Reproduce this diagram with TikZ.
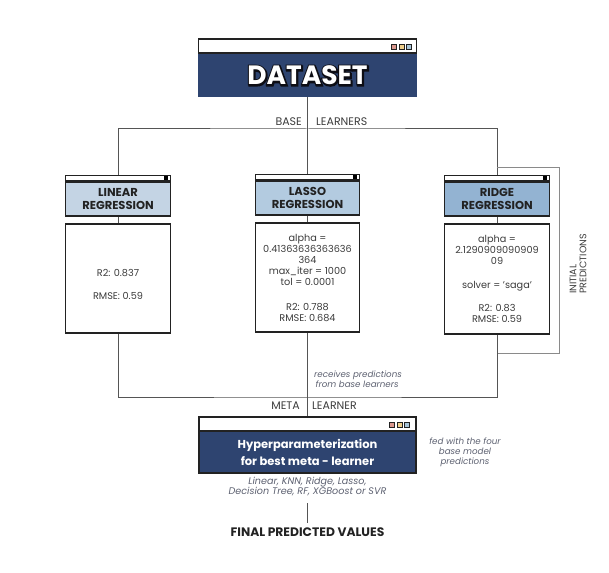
\documentclass[tikz,border=0pt]{standalone}
\usepackage{fontspec}
\setmainfont{Poppins}
\definecolor{navy}{HTML}{2E4470}
\definecolor{linfill}{HTML}{C4D4E4}
\definecolor{lasfill}{HTML}{B3CBE0}
\definecolor{ridfill}{HTML}{93B3D2}
\definecolor{boxline}{HTML}{222222}
\definecolor{linegrey}{HTML}{555555}
\definecolor{fbgrey}{HTML}{8A8A8A}
\definecolor{txtgrey}{HTML}{3C3C3C}
\definecolor{notegrey}{HTML}{5C6070}
\definecolor{sqred}{HTML}{D9968C}
\definecolor{sqyel}{HTML}{F0D08C}
\definecolor{sqblue}{HTML}{A8C5D8}
\newcommand{\outlinedtext}[1]{%
  \rlap{\kern0.7pt\raisebox{-0.9pt}{\color{black}\special{pdf:literal direct 2 Tr 2.6 w 0.05 0.05 0.08 RG}#1\special{pdf:literal direct 0 Tr}}}%
  \rlap{\color{black}\special{pdf:literal direct 2 Tr 2.2 w 0.05 0.05 0.08 RG}#1\special{pdf:literal direct 0 Tr}}%
  #1}
\begin{document}
\begin{tikzpicture}[x=1pt,y=-1pt,
  conn/.style={draw=linegrey, line width=1pt},
  fbconn/.style={draw=fbgrey, line width=1pt},
  winbar/.style={draw=boxline, line width=1.6pt, fill=white, inner sep=0pt, minimum height=5pt},
  bigbar/.style={draw=boxline, line width=1.6pt, fill=white, inner sep=0pt, minimum height=14pt},
  panel/.style={draw=boxline, line width=1.6pt, inner sep=0pt, minimum height=34pt, align=center,
    font=\fontsize{11.5}{12.5}\selectfont\bfseries, text=boxline},
  resbox/.style={draw=boxline, line width=1.6pt, fill=white, inner sep=0pt},
  restext/.style={inner sep=0pt, align=center, text=txtgrey, font=\fontsize{9.7}{11}\selectfont},
  lab/.style={inner sep=0pt, text=txtgrey, font=\fontsize{11}{12}\selectfont},
  note/.style={inner sep=0pt, align=center, text=notegrey, font=\fontsize{8.7}{10}\selectfont\itshape},
  sq/.style={draw=boxline, line width=0.8pt, inner sep=0pt, minimum size=5pt},
  blacksq/.style={fill=black, inner sep=0pt, minimum size=4pt}
]
\path[use as bounding box] (0,0) rectangle (609,572);

% ---------- DATASET ----------
\node[fill=navy, draw=navy, line width=1pt, inner sep=0pt, minimum width=218pt, minimum height=43pt] (ds) at (307.5,75.5) {};
\node[bigbar, minimum width=218pt] (dstb) at (307.5,46) {};
\node[sq, fill=sqred] (dssq1) at (394,46.5) {};
\node[sq, fill=sqyel] (dssq2) at (401.5,46.5) {};
\node[sq, fill=sqblue] (dssq3) at (409,46.5) {};
\node[inner sep=0pt, text=white, font=\fontsize{26.5}{26.5}\selectfont\bfseries] (dstext) at (ds.center) {\outlinedtext{DATASET}};

% ---------- BASE LEARNERS ----------
\coordinate (bus) at (307.5,129);
\node[lab, anchor=east] (baseL) at (302,122) {BASE};
\node[lab, anchor=west] (baseR) at (316,122) {LEARNERS};

% ---------- LINEAR ----------
\node[winbar, minimum width=105pt] (lintb) at (118,178) {};
\node[blacksq] (linsq) at (166,178) {};
\node[panel, fill=linfill, minimum width=105pt, anchor=north] (linp) at (lintb.south) {LINEAR\\REGRESSION};
\node[resbox, minimum width=105pt, minimum height=109pt] (linres) at (118,278.5) {};
\node[restext] (lintext) at (118,284.5) {R2: 0.837\\[12pt]RMSE: 0.59};

% ---------- LASSO ----------
\node[winbar, minimum width=104pt] (lastb) at (307.5,177) {};
\node[blacksq] (lassq) at (355,177) {};
\node[panel, fill=lasfill, minimum width=104pt, anchor=north] (lasp) at (lastb.south) {LASSO\\REGRESSION};
\node[resbox, minimum width=104pt, minimum height=109pt] (lasres) at (307.5,277.5) {};
\node[restext] (lastext) at (307.5,278) {alpha =\\0.41363636363636\\364\\max\_iter = 1000\\tol = 0.0001\\[14pt]R2: 0.788\\RMSE: 0.684};

% ---------- RIDGE ----------
\node[winbar, minimum width=105pt] (ridtb) at (497,178) {};
\node[blacksq] (ridsq) at (545,178) {};
\node[panel, fill=ridfill, minimum width=105pt, anchor=north] (ridp) at (ridtb.south) {RIDGE\\REGRESSION};
\node[resbox, minimum width=105pt, minimum height=110pt] (ridres) at (497,279) {};
\node[restext] (ridtext) at (497,278.5) {alpha =\\2.1290909090909\\09\\[13pt]solver = 'saga'\\[12pt]R2: 0.83\\RMSE: 0.59};

% ---------- base connectors ----------
\draw[conn] (ds.south) -- (bus);
\draw[conn] (lintb.north) |- (bus) -| (ridtb.north);
\draw[conn] (bus) -- (lastb.north);
\draw[conn] (linp.south) -- (linres.north);
\draw[conn] (lasp.south) -- (lasres.north);
\draw[conn] (ridp.south) -- (ridres.north);

% ---------- initial predictions loop ----------
\coordinate (fbin) at (497,167);
\coordinate (fbcorner) at (559,353);
\coordinate (fbout) at (497,353);
\draw[fbconn] (fbin) -| (fbcorner) -- (fbout);
\node[inner sep=0pt, rotate=90, align=left, text=txtgrey, font=\fontsize{9.5}{10}\selectfont] (initlab) at (578,264) {INITIAL\\PREDICTIONS};

% ---------- META LEARNER ----------
\coordinate (mbus) at (307.5,397);
\node[note, align=left, anchor=west] (recv) at (314,379) {receives predictions\\\hspace*{1.5pt}from base learners};
\node[lab, anchor=east] (metaL) at (300,406) {META};
\node[lab, anchor=west] (metaR) at (312,406) {LEARNER};

\node[draw=boxline, line width=1.6pt, fill=navy, inner sep=0pt, minimum width=217pt, minimum height=42pt, align=center,
  text=white, font=\fontsize{11.5}{17}\selectfont\bfseries] (meta) at (307.5,452) {Hyperparameterization\\for best meta - learner};
\node[bigbar, minimum width=217pt] (mtb) at (307.5,424) {};
\node[sq, fill=sqred] (msq1) at (392,424.5) {};
\node[sq, fill=sqyel] (msq2) at (399.5,424.5) {};
\node[sq, fill=sqblue] (msq3) at (407,424.5) {};

\draw[conn] (linres.south) |- (mbus) -| (ridres.south);
\draw[conn] (lasres.south) -- (mtb.north);

\node[note] (fed) at (465,452) {fed with the four\\base model\\predictions};
\node[note, font=\fontsize{9.6}{10}\selectfont\itshape] (models) at (307.5,487) {Linear, KNN, Ridge, Lasso,\\Decision Tree, RF, XGBoost or SVR};

% ---------- final ----------
\coordinate (finaltop) at (307.5,503);
\node[inner sep=0pt, text=boxline, font=\fontsize{12.3}{13}\selectfont\bfseries] (final) at (307.5,532) {FINAL PREDICTED VALUES};
\coordinate (finalend) at (307.5,523);
\draw[conn] (finaltop) -- (finalend);
\end{tikzpicture}
\end{document}
